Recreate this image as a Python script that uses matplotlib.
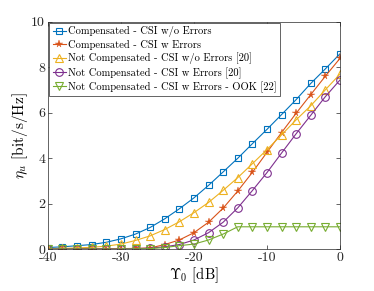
import matplotlib
matplotlib.use("Agg")
import matplotlib.pyplot as plt
import numpy as np

plt.rcParams['font.family'] = ['cmr10', 'DejaVu Serif']
plt.rcParams['mathtext.fontset'] = 'cm'
plt.rcParams['axes.formatter.use_mathtext'] = True

snr_db = list(range(-40, 1, 2))

comp_no_err = [0.07, 0.1, 0.15, 0.2, 0.3, 0.45, 0.66, 0.95, 1.33, 1.77, 2.25, 2.8,
               3.39, 3.99, 4.63, 5.26, 5.91, 6.57, 7.28, 7.92, 8.58]
comp_err = [0.02, 0.02, 0.02, 0.02, 0.02, 0.02, 0.03, 0.05, 0.2, 0.4, 0.72, 1.18,
            1.8, 2.55, 3.37, 4.25, 5.12, 5.97, 6.79, 7.6, 8.38]
notcomp_no_err = [0.02, 0.03, 0.05, 0.08, 0.13, 0.22, 0.38, 0.58, 0.86, 1.2, 1.6, 2.05,
                  2.58, 3.14, 3.75, 4.37, 5.02, 5.68, 6.3, 7.0, 7.69]
notcomp_err = [0.01, 0.01, 0.01, 0.01, 0.01, 0.01, 0.02, 0.04, 0.1, 0.2, 0.4, 0.72,
               1.18, 1.81, 2.57, 3.36, 4.22, 5.07, 5.88, 6.7, 7.43]
ook_err = [0.0, 0.0, 0.0, 0.0, 0.0, 0.0, 0.01, 0.02, 0.07, 0.15, 0.22, 0.4,
           0.66, 0.98, 0.98, 0.98, 0.98, 0.98, 0.98, 0.98, 0.98]

labels = ['Compensated - CSI w/o Errors',
          'Compensated - CSI w Errors',
          'Not Compensated - CSI w/o Errors [20]',
          'Not Compensated - CSI w Errors [20]',
          'Not Compensated - CSI w Errors - OOK [22]']
series = [comp_no_err, comp_err, notcomp_no_err, notcomp_err, ook_err]
colors = ['#0072BD', '#D95319', '#EDB120', '#7E2F8E', '#77AC30']
markers = ['s', '*', '^', 'o', 'v']
msizes = [4.5, 5.5, 6, 5.5, 5.5]

x_ticks = [-40, -30, -20, -10, 0]
x_ticklabels = ['-40', '-30', '-20', '-10', '0']
y_ticks = [0, 2, 4, 6, 8, 10]

fig = plt.figure(figsize=(3.74, 2.91), dpi=100)
ax = fig.add_axes([0.128, 0.144, 0.781, 0.782])

for y, lab, c, m, ms in zip(series, labels, colors, markers, msizes):
    if m == '*':
        ax.plot(snr_db, y, color=c, lw=0.8, marker=m, ms=ms, mfc=c, mec=c, mew=0.3, label=lab)
    else:
        ax.plot(snr_db, y, color=c, lw=0.8, marker=m, ms=ms, mfc='none', mec=c, mew=0.8, label=lab)

ax.set_xlim(-40, 0)
ax.set_ylim(0, 10)
ax.set_xticks(x_ticks)
ax.set_xticklabels(x_ticklabels)
ax.set_yticks(y_ticks)
ax.set_yticklabels([str(v) for v in y_ticks])
ax.tick_params(direction='in', top=True, right=True, labelsize=10, length=3, width=0.5,
               colors='#262626', pad=2)
for s in ax.spines.values():
    s.set_linewidth(0.5)
    s.set_color('#262626')
xl = ax.set_xlabel(r'$\Upsilon_0$ [dB]', fontsize=10.5, labelpad=1)
yl = ax.set_ylabel(r'$\eta_u$ [bit/s/Hz]', fontsize=11, labelpad=1)


def make_legend(size, spacing):
    lg = ax.legend(loc='upper left', prop={'family': 'cmr10', 'size': size},
                   handlelength=1.3, handletextpad=0.15,
                   labelspacing=spacing, borderpad=0.3, borderaxespad=0.15, fancybox=False,
                   framealpha=1, edgecolor='#262626')
    lg.get_frame().set_linewidth(0.5)
    return lg


# fit legend text size so the longest entry is ~208 px wide, rows ~12.7 px apart
size, spacing = 7.0, 0.3
leg = make_legend(size, spacing)
fig.canvas.draw()
r = fig.canvas.get_renderer()
w = leg.get_texts()[4].get_window_extent(r).width
size = size * 208.0 / w
leg.remove()
leg = make_legend(size, spacing)
fig.canvas.draw()
t0 = leg.get_texts()[0].get_window_extent(r)
t1 = leg.get_texts()[1].get_window_extent(r)
dy = t0.y0 - t1.y0
spacing = spacing + (12.7 - dy) / (size * 100 / 72.0)
leg.remove()
leg = make_legend(size, spacing)

fig.savefig('out.png', dpi=100)
